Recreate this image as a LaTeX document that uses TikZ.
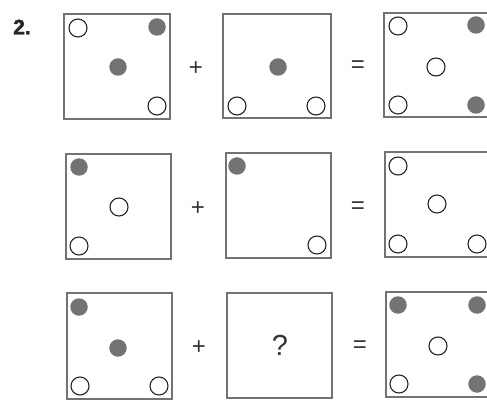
\documentclass[tikz,border=0pt]{standalone}
\usepackage{fontspec}
\setmainfont{Liberation Sans}
\newfontfamily\heavyfont{Liberation Sans}[BoldFeatures={FakeBold=1.6}]
\begin{document}
\begin{tikzpicture}[x=1pt,y=-1pt,
  panel/.style={draw=black!55,line width=1.1pt},
  hole/.style={draw=black!85,line width=1.1pt,fill=white,circle,minimum size=18pt,inner sep=0pt},
  dot/.style={fill=black!55,circle,minimum size=17.5pt,inner sep=0pt},
  op/.style={font=\fontsize{24}{24}\selectfont,text=black!80,inner sep=0pt},
  qm/.style={font=\fontsize{29}{29}\selectfont,text=black!80,inner sep=0pt}]
\useasboundingbox (0,0) rectangle (487,406);
\clip (0,0) rectangle (487,406);
\node[font=\fontsize{21}{21}\selectfont\heavyfont\bfseries,text=black!85,inner sep=0pt] (num) at (22,27) {2.};
% row 1
\draw[panel] (64,14) rectangle (170,119);
\draw[panel] (223,14) rectangle (331,118);
\draw[panel] (384,13) rectangle (492,117);
\node[hole] (a1) at (78,28) {};
\node[dot] (a2) at (157,27) {};
\node[dot] (a3) at (118,67) {};
\node[hole] (a4) at (157,106) {};
\node[op] (p1) at (196,69) {+};
\node[dot] (b1) at (278,67) {};
\node[hole] (b2) at (237,106) {};
\node[hole] (b3) at (316,106) {};
\node[op] (e1) at (358,67) {=};
\node[hole] (c1) at (398,26) {};
\node[dot] (c2) at (476,25) {};
\node[hole] (c3) at (436,67) {};
\node[hole] (c4) at (398,105) {};
\node[dot] (c5) at (476,105) {};
% row 2
\draw[panel] (66,154) rectangle (171,259);
\draw[panel] (226,153) rectangle (331,258);
\draw[panel] (385,152) rectangle (492,257);
\node[dot] (d1) at (79,167) {};
\node[hole] (d2) at (119,207) {};
\node[hole] (d3) at (79,246) {};
\node[op] (p2) at (198,209) {+};
\node[dot] (f1) at (237,166) {};
\node[hole] (f2) at (317,245) {};
\node[op] (e2) at (358,208) {=};
\node[hole] (g1) at (398,166) {};
\node[hole] (g2) at (437,204) {};
\node[hole] (g3) at (398,244) {};
\node[hole] (g4) at (477,244) {};
% row 3
\draw[panel] (67,293) rectangle (172,399);
\draw[panel] (227,293) rectangle (332,398);
\draw[panel] (386,292) rectangle (492,397);
\node[dot] (h1) at (79,307) {};
\node[dot] (h2) at (118,348) {};
\node[hole] (h3) at (80,386) {};
\node[hole] (h4) at (159,386) {};
\node[op] (p3) at (199,348) {+};
\node[qm] (q) at (280,345) {?};
\node[op] (e3) at (360,347) {=};
\node[dot] (k1) at (398,305) {};
\node[dot] (k2) at (477,305) {};
\node[hole] (k3) at (438,346) {};
\node[hole] (k4) at (399,384) {};
\node[dot] (k5) at (477,384) {};
\end{tikzpicture}
\end{document}
